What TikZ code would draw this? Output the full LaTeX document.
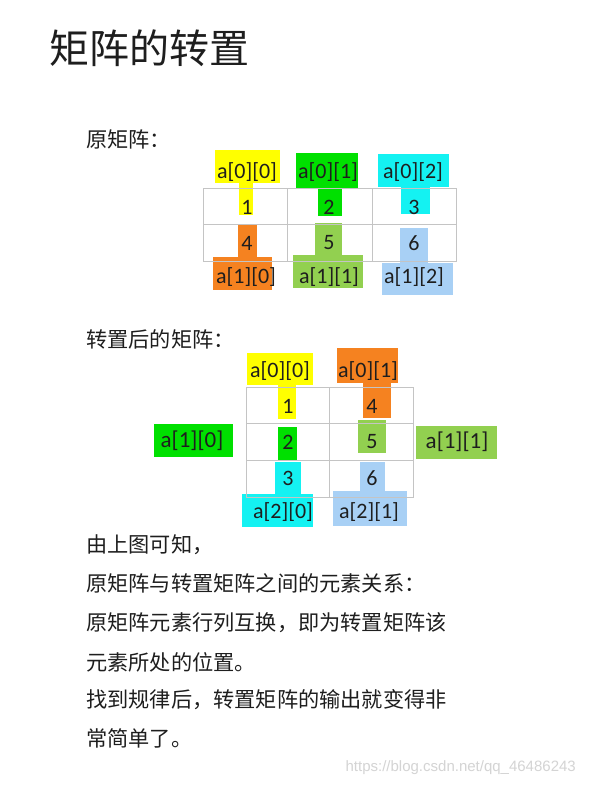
\documentclass[tikz,border=0pt]{standalone}
\usepackage{fontspec}
\setmainfont{Carlito}
\newfontfamily\cjk{Noto Sans CJK SC}
\newfontfamily\wmfont{Liberation Sans}
\definecolor{txt}{HTML}{1E1E1E}
\definecolor{gridc}{HTML}{C4C4C4}
\definecolor{hyel}{HTML}{FFFF00}
\definecolor{hgrn}{HTML}{00E000}
\definecolor{hcya}{HTML}{14F2F2}
\definecolor{horg}{HTML}{F58220}
\definecolor{hlgr}{HTML}{92D050}
\definecolor{hblu}{HTML}{A8D0F5}
\definecolor{wmc}{HTML}{D4D4D4}
\begin{document}
\begin{tikzpicture}[x=1pt,y=-1pt,
  lbl/.style={inner sep=0pt, text=txt, font=\fontsize{22}{26}\selectfont},
  hand/.style={inner sep=0pt, text=txt, font=\fontsize{23}{27}\selectfont},
  cn/.style={anchor=west, inner sep=0pt, text=txt, font=\cjk\fontsize{21.2}{25}\selectfont},
  gridline/.style={draw=gridc, line width=1pt}]
\useasboundingbox[fill=white] (0,0) rectangle (606,787);

% title
\node[anchor=west, inner sep=0pt, text=txt, font=\cjk\fontsize{40}{48}\selectfont] (title) at (49,48) {矩阵的转置};

% ===== original matrix =====
\node[cn] (h1) at (86,139) {原矩阵：};
% highlights
\fill[hyel] (215,150) rectangle (280,183);
\fill[hyel] (239,183) rectangle (253,215);
\fill[hgrn] (296,153) rectangle (358,188);
\fill[hgrn] (318,188) rectangle (342,216);
\fill[hcya] (378,154) rectangle (449,187);
\fill[hcya] (401,187) rectangle (430,214);
\fill[horg] (238,224) rectangle (257,257);
\fill[horg] (213,257) rectangle (272,290);
\fill[hlgr] (315,223) rectangle (342,255);
\fill[hlgr] (293,255) rectangle (363,288);
\fill[hblu] (400,228) rectangle (428,263);
\fill[hblu] (382,263) rectangle (453,295);
% grid
\draw[gridline] (203,188) rectangle (456,261);
\draw[gridline] (203,224) -- (456,224);
\draw[gridline] (287,188) -- (287,261);
\draw[gridline] (372,188) -- (372,261);
% texts
\node[lbl] (o00) at (247,172) {a[0][0]};
\node[lbl] (o01) at (328,172) {a[0][1]};
\node[lbl] (o02) at (413,172) {a[0][2]};
\node[lbl] (v1) at (247,207) {1};
\node[lbl] (v2) at (329,207) {2};
\node[lbl] (v3) at (414,207) {3};
\node[lbl] (v4) at (247,243) {4};
\node[lbl] (v5) at (329,243) {5};
\node[lbl] (v6) at (414,243) {6};
\node[lbl] (o10) at (246,277) {a[1][0]};
\node[lbl] (o11) at (329,277) {a[1][1]};
\node[lbl] (o12) at (414,277) {a[1][2]};

% ===== transposed matrix =====
\node[cn] (h2) at (86,339) {转置后的矩阵：};
\fill[hyel] (247,353) rectangle (313,385);
\fill[hyel] (278,385) rectangle (296,419);
\fill[horg] (337,348) rectangle (398,383);
\fill[horg] (363,383) rectangle (391,418);
\fill[hgrn] (278,427) rectangle (297,460);
\fill[hgrn] (154,424) rectangle (233,457);
\fill[hlgr] (358,420) rectangle (386,453);
\fill[hlgr] (416,426) rectangle (497,459);
\fill[hcya] (275,462) rectangle (301,494);
\fill[hcya] (242,494) rectangle (313,527);
\fill[hblu] (360,462) rectangle (385,493);
\fill[hblu] (333,491) rectangle (407,526);
% grid
\draw[gridline] (246,387) rectangle (413,497);
\draw[gridline] (246,423) -- (413,423);
\draw[gridline] (246,460) -- (413,460);
\draw[gridline] (329,387) -- (329,497);
% texts
\node[lbl] (t00) at (280,371) {a[0][0]};
\node[lbl] (t01) at (368,371) {a[0][1]};
\node[lbl] (w1) at (288,406) {1};
\node[lbl] (w4) at (372,406) {4};
\node[lbl] (w2) at (288,442) {2};
\node[lbl] (w5) at (372,442) {5};
\node[lbl] (w3) at (288,478) {3};
\node[lbl] (w6) at (372,478) {6};
\node[lbl] (t20) at (283,512) {a[2][0]};
\node[lbl] (t21) at (369,512) {a[2][1]};
\node[hand] (t10) at (192,441) {a[1][0]};
\node[hand] (t11) at (457,442) {a[1][1]};

% ===== explanation =====
\node[cn] (p1) at (86,545) {由上图可知，};
\node[cn] (p2) at (86,583) {原矩阵与转置矩阵之间的元素关系：};
\node[cn] (p3) at (86,623) {原矩阵元素行列互换，即为转置矩阵该};
\node[cn] (p4) at (86,662) {元素所处的位置。};
\node[cn] (p5) at (86,700) {找到规律后，转置矩阵的输出就变得非};
\node[cn] (p6) at (86,738) {常简单了。};

% watermark
\node[anchor=east, inner sep=0pt, text=wmc, font=\wmfont\fontsize{15}{18}\selectfont] (wm) at (576,768) {https://blog.csdn.net/qq\_46486243};
\end{tikzpicture}
\end{document}
